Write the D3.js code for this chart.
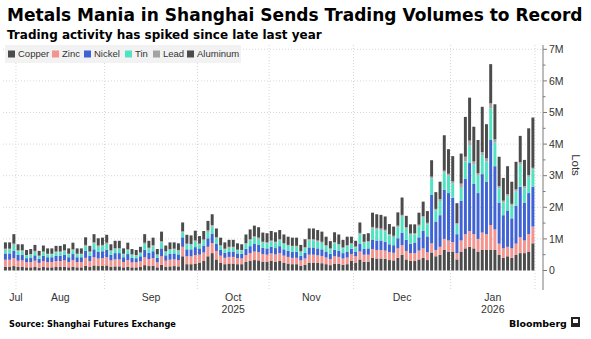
<!DOCTYPE html>
<html><head><meta charset="utf-8">
<script src="https://cdn.jsdelivr.net/npm/d3@7"></script>
<style>body{margin:0;background:#fff;} svg{display:block;}</style>
</head><body>
<svg id="c" width="591" height="339"></svg>
<script>
// ---------- DATA (volumes in millions of lots) ----------
const dates = [
"2025-07-29","2025-07-30","2025-07-31",
"2025-08-01","2025-08-04","2025-08-05","2025-08-06","2025-08-07","2025-08-08","2025-08-11","2025-08-12","2025-08-13","2025-08-14","2025-08-15","2025-08-18","2025-08-19","2025-08-20","2025-08-21","2025-08-22","2025-08-25","2025-08-26","2025-08-27","2025-08-28","2025-08-29",
"2025-09-01","2025-09-02","2025-09-03","2025-09-04","2025-09-05","2025-09-08","2025-09-09","2025-09-10","2025-09-11","2025-09-12","2025-09-15","2025-09-16","2025-09-17","2025-09-18","2025-09-19","2025-09-22","2025-09-23","2025-09-24","2025-09-25","2025-09-26","2025-09-29","2025-09-30",
"2025-10-09","2025-10-10","2025-10-13","2025-10-14","2025-10-15","2025-10-16","2025-10-17","2025-10-20","2025-10-21","2025-10-22","2025-10-23","2025-10-24","2025-10-27","2025-10-28","2025-10-29","2025-10-30","2025-10-31",
"2025-11-03","2025-11-04","2025-11-05","2025-11-06","2025-11-07","2025-11-10","2025-11-11","2025-11-12","2025-11-13","2025-11-14","2025-11-17","2025-11-18","2025-11-19","2025-11-20","2025-11-21","2025-11-24","2025-11-25","2025-11-26","2025-11-27","2025-11-28",
"2025-12-01","2025-12-02","2025-12-03","2025-12-04","2025-12-05","2025-12-08","2025-12-09","2025-12-10","2025-12-11","2025-12-12","2025-12-15","2025-12-16","2025-12-17","2025-12-18","2025-12-19","2025-12-22","2025-12-23","2025-12-24","2025-12-25","2025-12-26","2025-12-29","2025-12-30","2025-12-31",
"2026-01-05","2026-01-06","2026-01-07","2026-01-08","2026-01-09","2026-01-12","2026-01-13","2026-01-14","2026-01-15","2026-01-16","2026-01-19","2026-01-20","2026-01-21","2026-01-22","2026-01-23","2026-01-26","2026-01-27","2026-01-28","2026-01-29","2026-01-30"
];
const copper = [
.12,.12,.14,.11,.12,.10,.10,.11,.09,.11, .10,.10,.11,.11,.12,.10,.12,.10,.10,.15,
.11,.16,.14,.15,.16,.12,.13,.13,.10,.12, .10,.10,.11,.17,.14,.15,.10,.18,.12,.13,
.14,.13,.45,.20,.20,.22, .25,.30,.45,.55,.35,.25,.20,.22,.22,.20,
.20,.27,.30,.33,.32,.28,.27,.30,.28,.30, .25,.22,.20,.20,.15,.18,.25,.25,.24,.23,
.20,.17,.22,.21,.18,.20,
.30,.25,.35,.28,.28,.40,.38,.38,.37,.33,.32,.40,.50,.35,.30,.30,.35,.40,.33,.57,.45,.50,.65,.60,
.60,.35,.60,.70,.75,.70,.60,.65,.65,.65,.65,.50,.40,.45,.40,.50,.55,.55,.60,.86
];
const zinc = [
.22,.22,.25,.20,.20,.16,.17,.20,.15,.19, .17,.17,.19,.19,.20,.17,.21,.17,.17,.25,
.19,.26,.24,.24,.26,.20,.22,.22,.17,.21, .16,.16,.18,.25,.22,.24,.16,.27,.19,.21,
.21,.20,.30,.25,.25,.27, .25,.27,.30,.32,.27,.22,.20,.21,.21,.19,
.18,.22,.25,.27,.26,.24,.23,.24,.23,.25, .22,.21,.20,.20,.17,.20,.25,.25,.24,.23,
.21,.19,.23,.22,.20,.21,
.22,.20,.25,.22,.22,.28,.27,.27,.26,.25,.24,.30,.30,.27,.25,.25,.28,.30,.25,.29,.20,.25,.35,.35,
.30,.20,.35,.45,.50,.45,.40,.55,.50,.79,.65,.35,.30,.30,.30,.35,.50,.40,.55,.53
];
const nickel = [
.20,.20,.24,.18,.18,.13,.14,.17,.13,.17, .15,.15,.17,.17,.18,.15,.19,.15,.15,.22,
.17,.25,.22,.22,.24,.18,.20,.20,.15,.19, .14,.13,.16,.24,.20,.22,.14,.25,.17,.19,
.19,.18,.30,.22,.22,.25, .20,.22,.27,.30,.23,.18,.16,.17,.17,.15,
.15,.20,.22,.24,.23,.20,.20,.21,.20,.22, .20,.19,.19,.19,.15,.18,.23,.23,.22,.21,
.19,.17,.21,.20,.17,.19,
.17,.15,.25,.18,.20,.30,.30,.30,.28,.25,.24,.32,.40,.35,.30,.32,.42,.55,.50,1.53,.90,1.00,1.55,1.50,
1.40,.60,1.25,1.75,2.15,1.60,1.45,1.85,1.65,2.69,2.00,1.30,1.05,1.15,.95,1.20,1.60,1.20,1.30,1.26
];
const tin = [
.12,.12,.18,.12,.11,.08,.09,.11,.08,.10, .09,.09,.10,.10,.11,.09,.12,.09,.09,.15,
.10,.18,.15,.16,.18,.11,.13,.13,.09,.12, .09,.08,.10,.18,.13,.15,.09,.19,.10,.12,
.12,.11,.15,.15,.14,.17, .12,.15,.20,.22,.17,.12,.10,.12,.12,.10,
.10,.15,.18,.20,.19,.16,.16,.17,.17,.18, .17,.16,.16,.16,.12,.15,.22,.22,.21,.20,
.17,.14,.20,.18,.15,.17,
.15,.13,.30,.20,.20,.35,.35,.33,.33,.28,.26,.35,.50,.35,.28,.27,.35,.42,.38,.53,.35,.45,.55,.55,
.45,.30,.42,.55,.55,.60,.55,.60,.65,1.00,.75,.45,.40,.45,.40,.45,.70,.45,.50,.55
];
const lead = [
.03,.03,.04,.03,.03,.02,.02,.03,.02,.03, .02,.02,.03,.03,.03,.02,.03,.02,.02,.04,
.03,.04,.04,.04,.04,.03,.03,.03,.02,.03, .02,.02,.02,.04,.03,.04,.02,.04,.03,.03,
.03,.03,.04,.03,.03,.04, .03,.04,.05,.05,.04,.03,.03,.03,.03,.02,
.02,.03,.04,.04,.04,.03,.03,.03,.03,.04, .03,.03,.03,.03,.02,.03,.04,.04,.04,.04,
.03,.03,.04,.03,.03,.03,
.03,.03,.04,.03,.03,.05,.05,.05,.05,.04,.04,.05,.06,.05,.04,.04,.05,.05,.05,.05,.05,.06,.06,.06,
.07,.05,.13,.15,.16,.10,.08,.10,.10,.16,.10,.07,.06,.07,.06,.07,.08,.07,.07,.05
];
const aluminum = [
.20,.20,.30,.19,.19,.16,.16,.19,.15,.19, .17,.17,.18,.18,.19,.17,.21,.17,.17,.24,
.18,.26,.23,.23,.25,.19,.23,.23,.17,.21, .17,.16,.18,.27,.22,.24,.17,.30,.18,.21,
.20,.21,.28,.28,.27,.31, .24,.27,.30,.34,.27,.24,.20,.22,.22,.20,
.18,.27,.31,.34,.33,.29,.29,.30,.30,.29, .27,.26,.26,.26,.20,.25,.34,.34,.33,.32,
.27,.23,.31,.30,.24,.27,
.20,.18,.33,.24,.25,.45,.43,.43,.42,.32,.29,.42,.55,.36,.29,.28,.38,.46,.37,.52,.53,.55,1.12,.78,
.80,.63,.95,1.26,1.36,1.10,1.05,1.43,1.08,1.24,1.11,.93,.72,.88,.70,.87,.83,.83,1.48,1.59
];
const seriesNames = ["Copper","Zinc","Nickel","Tin","Lead","Aluminum"];
const seriesColors = ["#4b4b4b","#f4948e","#3f62d4","#4fe3c2","#a3a3a3","#4b4b4b"];
const yTickValues = [0,1,2,3,4,5,6,7];
const yTickLabels = ["0","1M","2M","3M","4M","5M","6M","7M"];
const monthNames = ["Jul","Aug","Sep","Oct","Nov","Dec","Jan"];
const yearLabels = ["","","","2025","","","2026"];

// ---------- BUILD ----------
const seriesData = [copper, zinc, nickel, tin, lead, aluminum];
const rows = dates.map((d, i) => {
  const r = {date: d};
  seriesNames.forEach((s, k) => r[s] = seriesData[k][i]);
  return r;
});

const svg = d3.select("#c");
const plotTop = 45, plotBottom = 290;
const x = d3.scaleBand().domain(dates).range([3.3, 535]).paddingInner(0.3).paddingOuter(0.15);
const y = d3.scaleLinear().domain([0, 7]).range([270.5, 49.3]);
const axisX = 543;

// gridlines horizontal
svg.append("g").selectAll("line").data(yTickValues.filter(v => v > 0)).join("line")
  .attr("x1", 3).attr("x2", axisX).attr("y1", d => y(d)).attr("y2", d => y(d))
  .attr("stroke", "#d6d6d6").attr("stroke-width", 1).attr("stroke-dasharray", "1,2");

// month boundaries
const step = x.step();
const boundaries = [];
const months = [];
let prev = null;
dates.forEach((d) => {
  const m = d.slice(0, 7);
  if (m !== prev) {
    months.push({key: m, start: x(d) - step * 0.15});
    if (prev !== null) boundaries.push(x(d) - step * 0.15);
    prev = m;
  }
});
const endX = x(dates[dates.length - 1]) + x.bandwidth() + step * 0.15;
boundaries.push(endX);
months.forEach((m, i) => { m.end = i < months.length - 1 ? months[i + 1].start : endX; });

svg.append("g").selectAll("line").data(boundaries).join("line")
  .attr("x1", d => d).attr("x2", d => d).attr("y1", plotTop).attr("y2", plotBottom)
  .attr("stroke", "#d6d6d6").attr("stroke-width", 1).attr("stroke-dasharray", "1,2");

// stacked bars
const stack = d3.stack().keys(seriesNames)(rows);
svg.append("g").selectAll("g").data(stack).join("g")
  .attr("fill", (d, i) => seriesColors[i])
  .selectAll("rect").data(d => d).join("rect")
  .attr("x", d => x(d.data.date))
  .attr("width", x.bandwidth())
  .attr("y", d => y(d[1]))
  .attr("height", d => Math.max(0, y(d[0]) - y(d[1])));

// right axis
const axisG = svg.append("g").attr("transform", `translate(${axisX},0)`);
axisG.append("line").attr("x1", 0).attr("x2", 0).attr("y1", plotTop).attr("y2", plotBottom)
  .attr("stroke", "#7a7a7a").attr("stroke-width", 1);
const minor = d3.range(0, 7.01, 0.5).filter(v => v % 1 !== 0);
axisG.selectAll("line.minor").data(minor).join("line").attr("class", "minor")
  .attr("x1", 0).attr("x2", 2.5).attr("y1", d => y(d)).attr("y2", d => y(d))
  .attr("stroke", "#7a7a7a");
axisG.selectAll("line.major").data(yTickValues).join("line").attr("class", "major")
  .attr("x1", 0).attr("x2", 4).attr("y1", d => y(d)).attr("y2", d => y(d))
  .attr("stroke", "#7a7a7a");
axisG.selectAll("text").data(yTickValues).join("text")
  .attr("x", 6).attr("y", d => y(d)).attr("dy", "0.35em")
  .attr("font-family", "Liberation Sans, Arial, sans-serif").attr("font-size", 10.5)
  .attr("fill", "#333").text((d, i) => yTickLabels[i]);
svg.append("text").attr("transform", "translate(572,165) rotate(90)")
  .attr("text-anchor", "middle").attr("font-family", "Liberation Sans, Arial, sans-serif")
  .attr("font-size", 11.5).attr("fill", "#333").text("Lots");

// x labels
const mx = months.map((m, i) => {
  let c = (m.start + m.end) / 2;
  if (i === 0) c = Math.max(c, 16);
  return c;
});
svg.append("g").selectAll("text").data(monthNames).join("text")
  .attr("x", (d, i) => mx[i]).attr("y", 301).attr("text-anchor", "middle")
  .attr("font-family", "Liberation Sans, Arial, sans-serif").attr("font-size", 10.5)
  .attr("fill", "#333").text(d => d);
svg.append("g").selectAll("text").data(yearLabels).join("text")
  .attr("x", (d, i) => mx[i]).attr("y", 313).attr("text-anchor", "middle")
  .attr("font-family", "Liberation Sans, Arial, sans-serif").attr("font-size", 10.5)
  .attr("fill", "#333").text(d => d);

// legend
svg.append("rect").attr("x", 5).attr("y", 45).attr("width", 236).attr("height", 18).attr("fill", "#f2f2f2");
const legX = [8, 52, 84, 125, 153, 187];
const lg = svg.append("g").selectAll("g").data(seriesNames).join("g")
  .attr("transform", (d, i) => `translate(${legX[i]},54)`);
lg.append("rect").attr("x", 0).attr("y", -3.5).attr("width", 7).attr("height", 7)
  .attr("fill", (d, i) => seriesColors[i]);
lg.append("text").attr("x", 10).attr("y", 0).attr("dy", "0.35em")
  .attr("font-family", "Liberation Sans, Arial, sans-serif").attr("font-size", 9.5)
  .attr("fill", "#333").text(d => d);

// titles
function fitText(sel, width) {
  const w = sel.node().getComputedTextLength();
  const fs = parseFloat(sel.attr("font-size"));
  sel.attr("font-size", fs * width / w);
}
const t1 = svg.append("text").attr("x", 7).attr("y", 21)
  .attr("font-family", "DejaVu Sans, sans-serif").attr("font-weight", "bold")
  .attr("font-size", 17).attr("fill", "#000").text("Metals Mania in Shanghai Sends Trading Volumes to Record");
fitText(t1, 576);
const t2 = svg.append("text").attr("x", 7).attr("y", 39)
  .attr("font-family", "DejaVu Sans, sans-serif").attr("font-weight", "bold")
  .attr("font-size", 13).attr("fill", "#000").text("Trading activity has spiked since late last year");
fitText(t2, 315);
const t3 = svg.append("text").attr("x", 9).attr("y", 327)
  .attr("font-family", "DejaVu Sans, sans-serif").attr("font-weight", "bold")
  .attr("font-size", 9).attr("fill", "#000").text("Source: Shanghai Futures Exchange");
fitText(t3, 167);
const t4 = svg.append("text").attr("x", 509).attr("y", 327)
  .attr("font-family", "DejaVu Sans, sans-serif").attr("font-weight", "bold")
  .attr("font-size", 11).attr("fill", "#000").text("Bloomberg");
fitText(t4, 58);
// logo mark
svg.append("rect").attr("x", 571).attr("y", 317).attr("width", 9).attr("height", 10).attr("fill", "#222");
svg.append("rect").attr("x", 573).attr("y", 319).attr("width", 5).attr("height", 4).attr("fill", "#fff");
</script>
</body></html>
